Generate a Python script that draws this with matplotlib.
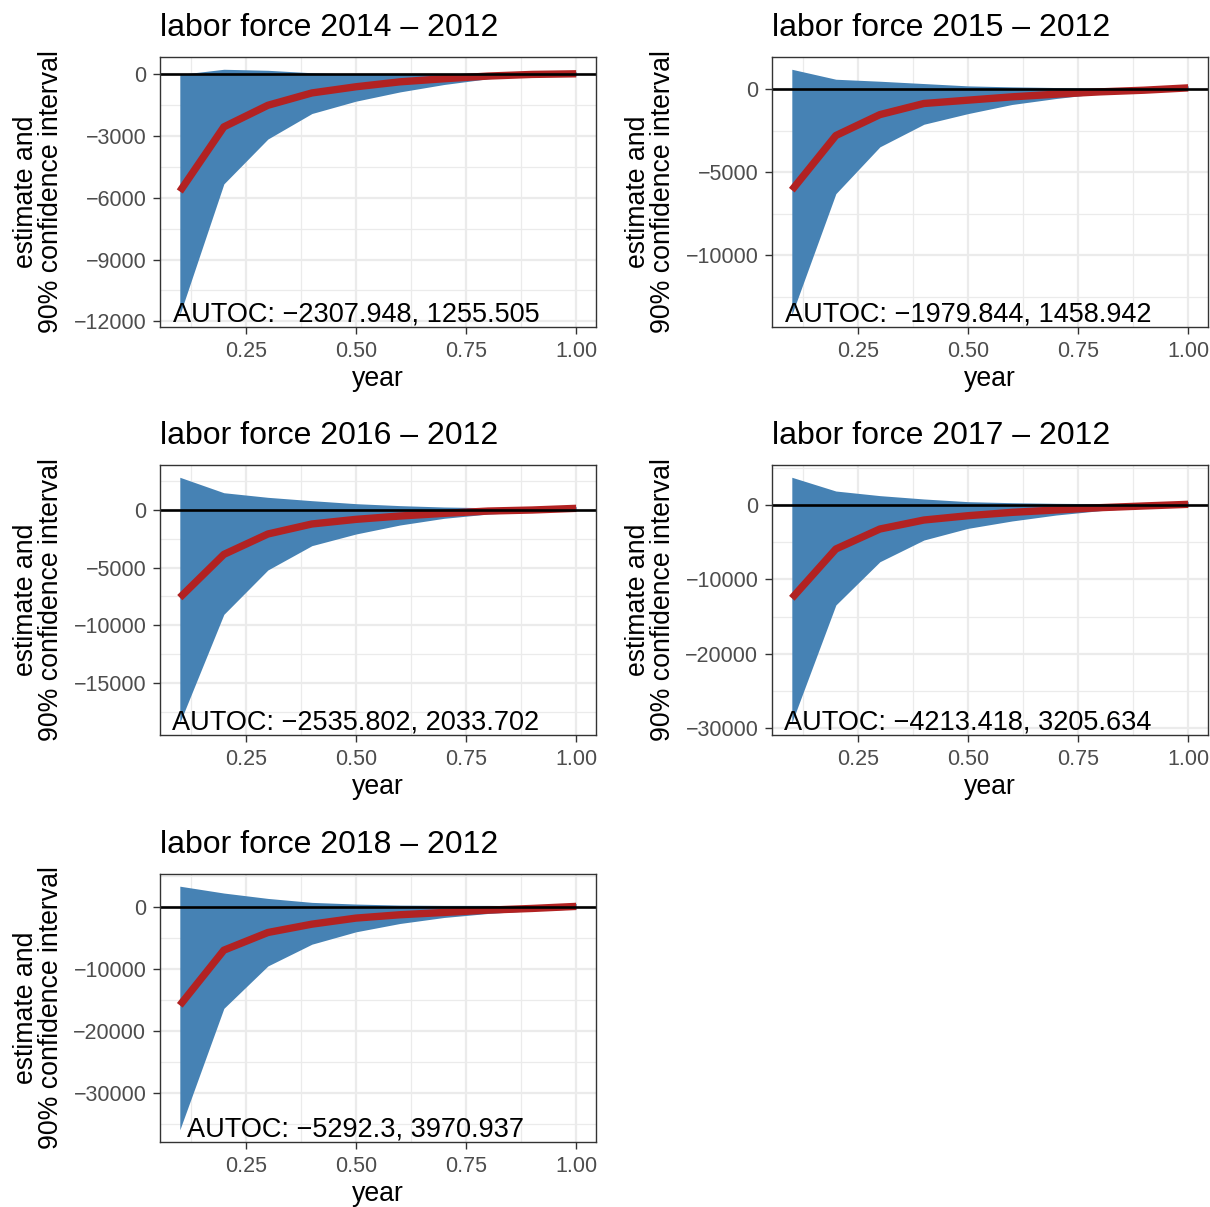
import matplotlib
matplotlib.use("Agg")
import matplotlib.pyplot as plt
from matplotlib.ticker import FixedLocator, MultipleLocator

plt.rcParams['font.family'] = ['Liberation Sans', 'DejaVu Sans']

x = [0.1, 0.2, 0.3, 0.4, 0.5, 0.6, 0.7, 0.8, 0.9, 1.0]
years = [2014, 2015, 2016, 2017, 2018]

est_2014 = [-5690, -2550, -1500, -900, -600, -360, -210, -80, 0, 30]
lo_2014 = [-11680, -5320, -3140, -1900, -1300, -850, -490, -210, -50, -70]
hi_2014 = [0, 250, 200, 80, 10, 20, 30, 60, 90, 130]

est_2015 = [-6080, -2790, -1530, -860, -660, -460, -300, -160, -60, 80]
lo_2015 = [-13580, -6290, -3470, -2110, -1470, -920, -560, -260, -100, -20]
hi_2015 = [1200, 600, 480, 340, 200, 140, 100, 60, 40, 200]

est_2016 = [-7600, -3850, -2080, -1210, -810, -520, -290, -90, 0, 145]
lo_2016 = [-18450, -9050, -5200, -3090, -2080, -1300, -720, -350, -150, -90]
hi_2016 = [2840, 1500, 1100, 810, 550, 380, 260, 200, 150, 290]

est_2017 = [-12550, -5920, -3230, -2020, -1440, -990, -670, -360, -130, 90]
lo_2017 = [-29290, -13450, -7630, -4710, -3140, -2150, -1350, -760, -360, -130]
hi_2017 = [3730, 1880, 1260, 810, 450, 310, 220, 180, 140, 450]

est_2018 = [-15890, -6970, -4110, -2760, -1780, -1240, -870, -490, -220, 110]
lo_2018 = [-36020, -16380, -9520, -6000, -4000, -2650, -1680, -1030, -590, -320]
hi_2018 = [3380, 2270, 1400, 760, 490, 320, 270, 270, 220, 590]

autoc_est = [-2307.948, -1979.844, -2535.802, -4213.418, -5292.3]
autoc_se = [1255.505, 1458.942, 2033.702, 3205.634, 3970.937]

y_ticks = [
    [0, -3000, -6000, -9000, -12000],
    [0, -5000, -10000],
    [0, -5000, -10000, -15000],
    [0, -10000, -20000, -30000],
    [0, -10000, -20000, -30000],
]
x_ticks = [0.25, 0.50, 0.75, 1.00]
x_tick_labels = ["0.25", "0.50", "0.75", "1.00"]

series = [
    (est_2014, lo_2014, hi_2014),
    (est_2015, lo_2015, hi_2015),
    (est_2016, lo_2016, hi_2016),
    (est_2017, lo_2017, hi_2017),
    (est_2018, lo_2018, hi_2018),
]

W, H = 1210, 1207
fig = plt.figure(figsize=(W / 100, H / 100), dpi=100)

# panel boxes in pixels: left, top, right, bottom
boxes = [
    (160, 57, 596, 327),
    (772, 57, 1208, 327),
    (160, 465, 596, 735),
    (772, 465, 1208, 735),
    (160, 874, 596, 1142),
]

def fmt(v):
    return str(v).replace('-', '\u2212')

def tick_fmt(v):
    return f"{int(v)}".replace('-', '\u2212')

border = '#333333'
for i, (box, (est, lo, hi)) in enumerate(zip(boxes, series)):
    l, t, r, b = box
    ax = fig.add_axes([l / W, 1 - b / H, (r - l) / W, (b - t) / H])
    ax.fill_between(x, lo, hi, color='#4682B4', linewidth=0, zorder=2)
    ax.plot(x, est, color='#B22222', linewidth=5.3, solid_capstyle='butt', zorder=3)
    ax.axhline(0, color='black', linewidth=1.9, zorder=4)

    ymin = min(lo); ymax = max(hi)
    rng = ymax - ymin
    ax.set_ylim(ymin - 0.05 * rng, ymax + 0.05 * rng)
    ax.set_xlim(0.1 - 0.045, 1.0 + 0.045)

    yt = y_ticks[i]
    ax.yaxis.set_major_locator(FixedLocator(yt))
    ax.set_yticklabels([tick_fmt(v) for v in yt])
    step = abs(yt[1] - yt[0])
    ax.yaxis.set_minor_locator(MultipleLocator(step / 2))
    ax.xaxis.set_major_locator(FixedLocator(x_ticks))
    ax.set_xticklabels(x_tick_labels)
    ax.xaxis.set_minor_locator(MultipleLocator(0.125))

    ax.grid(which='major', color='#EBEBEB', linewidth=1.6, zorder=0)
    ax.grid(which='minor', color='#EBEBEB', linewidth=0.9, zorder=0)
    ax.set_axisbelow(True)
    for s in ax.spines.values():
        s.set_color(border)
        s.set_linewidth(1.0)
        s.set_zorder(5)
    ax.tick_params(which='major', length=4.8, width=1.0, color=border,
                   labelsize=15.5, labelcolor='#4D4D4D', pad=5)
    ax.tick_params(which='minor', length=0)

    ax.set_title(f"labor force {years[i]} \u2013 2012", loc='left',
                 fontsize=23, pad=15, color='black')
    ax.set_xlabel("year", fontsize=19.2, labelpad=3)
    ax.set_ylabel("estimate and\n90% confidence interval", fontsize=19.2,
                  labelpad=7, linespacing=0.93)
    ax.text(0.5, ymin, f"AUTOC: {fmt(autoc_est[i])}, {fmt(autoc_se[i])}",
            ha='center', va='center', fontsize=19.5, color='black', zorder=6)

fig.savefig("out.png", dpi=100)
